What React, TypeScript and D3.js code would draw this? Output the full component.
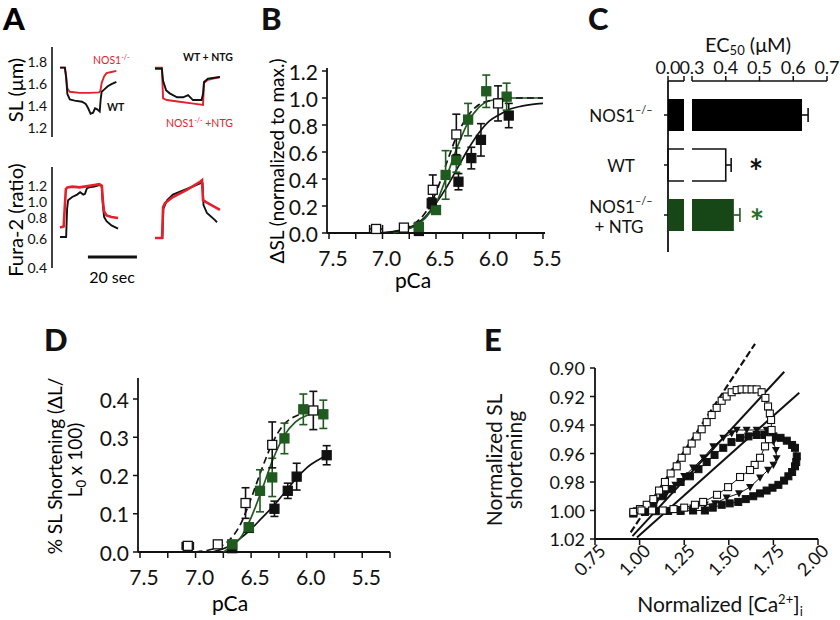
import React from "react";
import * as d3 from "d3";

const FONT = "Lato, 'Open Sans', 'DejaVu Sans', sans-serif";
const GREEN = "#1f5a1f";
const GREEN_BAR = "#174717";
const GREEN_TXT = "#2b6e2b";
const RED = "#e3202b";

type P = [number, number];

// ---------------- Panel A (traces: [time s, value]) ----------------
const slTicks = [1.2, 1.4, 1.6, 1.8];
const furaTicks = [0.4, 0.6, 0.8, 1.0, 1.2];
const slWT: P[] = [[0,1.74],[2,1.74],[2.5,1.65],[3,1.5],[4,1.45],[6,1.44],[9,1.43],[10.5,1.41],[11.5,1.37],[12.5,1.32],[13.5,1.33],[14.3,1.37],[15.2,1.36],[16.2,1.34],[16.6,1.45],[17,1.52],[18,1.54],[19.5,1.57],[21,1.59],[23,1.61]];
const slKO: P[] = [[0,1.74],[2,1.74],[2.5,1.66],[3,1.55],[4,1.52],[8,1.51],[12,1.51],[16,1.515],[16.5,1.53],[17,1.6],[18,1.66],[19,1.69],[21,1.7],[23,1.71]];
const slWTntg: P[] = [[0,1.73],[2.8,1.73],[3.3,1.62],[4.5,1.535],[6,1.506],[9,1.47],[11.5,1.47],[13.5,1.49],[15.5,1.445],[19,1.445],[19.6,1.5],[20,1.61],[21.6,1.64],[26.5,1.655]];
const slKOntg: P[] = [[0,1.74],[2.8,1.74],[3.3,1.46],[4.9,1.445],[10,1.43],[15,1.415],[19.6,1.4],[20,1.6],[21.6,1.63],[26.5,1.655]];
const fuWT: P[] = [[0,0.61],[2.5,0.61],[2.9,0.9],[3.3,1.01],[5,1.05],[7,1.08],[8.2,1.11],[9.5,1.08],[10.2,1.09],[11,1.16],[12,1.17],[14,1.18],[16,1.2],[17,1.19],[17.5,0.95],[18,0.8],[19,0.76],[21,0.72],[23.7,0.69]];
const fuKO: P[] = [[0,0.7],[1.5,0.71],[2,0.95],[2.4,1.15],[3,1.17],[5,1.18],[8,1.17],[10,1.18],[12,1.19],[14,1.2],[16,1.21],[17.1,1.19],[17.5,1.0],[18,0.87],[19,0.82],[21,0.8],[23.7,0.79]];
const fuWTntg: P[] = [[0,0.6],[3,0.6],[3.4,0.9],[4.9,1.01],[7.3,1.08],[13,1.15],[18.4,1.22],[19.4,1.22],[19.8,0.95],[21.2,0.85],[24.5,0.77],[25.3,0.75]];
const fuKOntg: P[] = [[0,0.6],[2.9,0.6],[3.3,0.925],[4.1,0.975],[7.3,1.05],[13,1.14],[18.4,1.24],[19.2,1.26],[19.6,1.01],[21.2,0.98],[26.5,0.89]];

// ---------------- Panel B ----------------
const bYTicks = [0, 0.2, 0.4, 0.6, 0.8, 1.0, 1.2];
const pcaLabels = [7.5, 7.0, 6.5, 6.0, 5.5];
const bMinor = [7.5, 7.25, 7.0, 6.75, 6.5, 6.25, 6.0, 5.75, 5.5];
const bWT_pCa = [7.06, 6.8, 6.53, 6.31, 5.92];
const bWT_val = [0.03, 0.04, 0.32, 0.73, 0.96];
const bWT_err = [0, 0, 0.11, 0.15, 0.13];
const bKO_pCa = [6.66, 6.54, 6.29, 6.17, 6.08, 5.82];
const bKO_val = [0.015, 0.22, 0.38, 0.555, 0.69, 0.87];
const bKO_err = [0, 0.04, 0.06, 0.08, 0.12, 0.09];
const bNTG_pCa = [6.66, 6.5, 6.41, 6.31, 6.2, 6.03, 5.84];
const bNTG_val = [0.045, 0.17, 0.43, 0.54, 0.84, 1.05, 1.01];
const bNTG_err = [0.02, 0.03, 0.18, 0.09, 0.12, 0.12, 0.1];
const bWTfit: P[] = [[7.0,0],[6.9,0.01],[6.8,0.03],[6.7,0.07],[6.6,0.15],[6.5,0.3],[6.4,0.52],[6.3,0.73],[6.2,0.87],[6.1,0.95],[6.0,0.98],[5.8,1.0],[5.5,1.0]];
const bKOfit: P[] = [[7.03,0],[6.9,0.01],[6.8,0.025],[6.7,0.06],[6.6,0.12],[6.5,0.22],[6.4,0.34],[6.3,0.48],[6.2,0.62],[6.1,0.74],[6.0,0.83],[5.9,0.88],[5.8,0.92],[5.7,0.94],[5.5,0.96]];
const bNTGfit: P[] = [[6.9,0],[6.8,0.02],[6.7,0.05],[6.6,0.11],[6.5,0.22],[6.4,0.42],[6.3,0.64],[6.2,0.82],[6.1,0.93],[6.0,0.98],[5.8,1.0],[5.5,1.0]];

// ---------------- Panel C ----------------
const cCats = ["NOS1", "WT", "NTG"];
const cVals = [0.626, 0.4, 0.424];
const cErr = [0.018, 0.016, 0.018];
const cTicks = [0.3, 0.4, 0.5, 0.6, 0.7];

// ---------------- Panel D ----------------
const dYTicks = [0, 0.1, 0.2, 0.3, 0.4];
const dMinor = [7.5, 7.25, 7.0, 6.75, 6.5, 6.25, 6.0, 5.75, 5.5, 5.25];
const dWT_pCa = [7.07, 6.8, 6.55, 6.31, 5.94];
const dWT_val = [0.016, 0.02, 0.128, 0.28, 0.37];
const dWT_err = [0.004, 0.005, 0.04, 0.06, 0.05];
const dKO_pCa = [6.67, 6.52, 6.29, 6.17, 6.09, 5.82];
const dKO_val = [0.01, 0.063, 0.113, 0.16, 0.197, 0.253];
const dKO_err = [0.005, 0.01, 0.02, 0.02, 0.035, 0.025];
const dNTG_pCa = [6.67, 6.52, 6.42, 6.31, 6.2, 6.03, 5.85];
const dNTG_val = [0.02, 0.065, 0.16, 0.195, 0.297, 0.373, 0.36];
const dNTG_err = [0.005, 0.01, 0.055, 0.05, 0.04, 0.04, 0.037];
const dWTfit: P[] = [[7.0,0],[6.9,0.004],[6.8,0.012],[6.7,0.03],[6.6,0.07],[6.5,0.14],[6.4,0.22],[6.3,0.29],[6.2,0.335],[6.1,0.355],[6.0,0.365],[5.94,0.37]];
const dNTGfit: P[] = [[6.75,0],[6.7,0.01],[6.6,0.035],[6.5,0.09],[6.4,0.165],[6.3,0.245],[6.2,0.305],[6.1,0.34],[6.0,0.357],[5.85,0.365]];
const dKOfit: P[] = [[6.85,0],[6.7,0.015],[6.6,0.035],[6.5,0.06],[6.4,0.09],[6.3,0.12],[6.2,0.155],[6.1,0.19],[6.0,0.22],[5.9,0.24],[5.82,0.253]];

// ---------------- Panel E ----------------
const eXTicks = [0.75, 1.0, 1.25, 1.5, 1.75, 2.0];
const eYTicks = [0.9, 0.92, 0.94, 0.96, 0.98, 1.0, 1.02];
const eWT: P[] = [[0.965,1.001],[1.002,0.999],[1.04,0.996],[1.077,0.992],[1.109,0.986],[1.142,0.98],[1.174,0.974],[1.208,0.969],[1.236,0.963],[1.264,0.958],[1.292,0.953],[1.32,0.948],[1.348,0.943],[1.376,0.938],[1.404,0.933],[1.432,0.928],[1.46,0.923],[1.488,0.92],[1.516,0.917],[1.544,0.9155],[1.572,0.915],[1.6,0.915],[1.628,0.915],[1.656,0.915],[1.684,0.917],[1.705,0.921],[1.72,0.927],[1.73,0.932],[1.737,0.9365],[1.74,0.9435],[1.725,0.95],[1.703,0.955],[1.675,0.963],[1.645,0.968],[1.619,0.9716],[1.563,0.9765],[1.496,0.9836],[1.434,0.989],[1.356,0.994],[1.31,0.996],[1.25,0.998],[1.19,0.999],[1.13,1.0],[1.07,1.0],[1.01,1.0]];
const eNTG: P[] = [[0.984,1.0],[1.04,0.997],[1.096,0.993],[1.15,0.988],[1.2,0.982],[1.25,0.976],[1.3,0.97],[1.357,0.963],[1.413,0.955],[1.469,0.949],[1.516,0.946],[1.544,0.9435],[1.6,0.9435],[1.656,0.9435],[1.712,0.9435],[1.735,0.947],[1.75,0.9517],[1.764,0.9576],[1.768,0.9634],[1.75,0.968],[1.72,0.9716],[1.675,0.977],[1.619,0.9836],[1.557,0.988],[1.488,0.991],[1.423,0.995],[1.366,0.996],[1.3,0.998],[1.23,0.999],[1.16,1.0],[1.09,1.0],[1.02,1.0]];
const eKO: P[] = [[0.965,1.002],[1.02,0.999],[1.077,0.995],[1.13,0.99],[1.18,0.985],[1.23,0.98],[1.282,0.976],[1.33,0.971],[1.376,0.966],[1.42,0.961],[1.469,0.956],[1.515,0.952],[1.563,0.949],[1.61,0.948],[1.656,0.947],[1.7,0.947],[1.75,0.948],[1.79,0.949],[1.825,0.951],[1.855,0.954],[1.871,0.956],[1.881,0.962],[1.878,0.966],[1.871,0.969],[1.855,0.973],[1.834,0.976],[1.81,0.979],[1.778,0.982],[1.745,0.984],[1.712,0.986],[1.675,0.988],[1.637,0.99],[1.595,0.992],[1.553,0.994],[1.505,0.995],[1.46,0.996],[1.41,0.998],[1.366,1.0],[1.3,1.0],[1.23,1.0003],[1.16,1.0003],[1.09,1.0005],[1.03,1.001],[0.965,1.002]];
const eFitWT: P[] = [[0.95,1.0154],[1.647,0.883]];
const eFitNTG: P[] = [[0.96,1.018],[1.811,0.9026]];
const eFitKO: P[] = [[0.985,1.019],[1.895,0.9173]];

function ErrV({ x, y1, y2, color, cap = 4 }: any) {
  return (
    <g stroke={color} strokeWidth={1.6}>
      <line x1={x} x2={x} y1={y1} y2={y2} />
      <line x1={x - cap} x2={x + cap} y1={y1} y2={y1} />
      <line x1={x - cap} x2={x + cap} y1={y2} y2={y2} />
    </g>
  );
}

function Sq({ x, y, s, fill, stroke, sw = 1.3 }: any) {
  return <rect x={x - s / 2} y={y - s / 2} width={s} height={s} fill={fill} stroke={stroke} strokeWidth={sw} />;
}

function PanelA() {
  const tA = d3.scaleLinear().domain([0, 20]).range([0, 49]);
  const slY = d3.scaleLinear().domain([1.2, 1.8]).range([127, 61]);
  const fuY = d3.scaleLinear().domain([0.4, 0.6, 0.8, 1.0, 1.2]).range([267, 238, 217, 201, 185]);
  const sl = d3.line<P>().x(d => tA(d[0])).y(d => slY(d[1]));
  const fu = d3.line<P>().x(d => tA(d[0])).y(d => fuY(d[1]));
  const lab = { fontFamily: FONT, fontSize: 14, fill: "#111" };
  return (
    <g>
      <text x={3} y={30} fontFamily={FONT} fontWeight={900} fontSize={31}>A</text>
      <text transform="translate(23,90) rotate(-90)" textAnchor="middle" fontFamily={FONT} fontSize={20}>SL  (μm)</text>
      <text transform="translate(23,220) rotate(-90)" textAnchor="middle" fontFamily={FONT} fontSize={20}>Fura-2 (ratio)</text>
      <line x1={52} x2={52} y1={47} y2={137} stroke="#111" strokeWidth={1.6} />
      <line x1={52} x2={52} y1={167} y2={268} stroke="#111" strokeWidth={1.6} />
      {slTicks.map(t => (
        <text key={"s" + t} x={47} y={slY(t)} textAnchor="end" dominantBaseline="central" {...lab}>{t.toFixed(1)}</text>
      ))}
      {furaTicks.map(t => (
        <text key={"f" + t} x={47} y={fuY(t)} textAnchor="end" dominantBaseline="central" {...lab}>{t.toFixed(1)}</text>
      ))}
      <g transform="translate(60,0)" fill="none" strokeWidth={1.9}>
        <path d={sl(slKO)!} stroke={RED} />
        <path d={sl(slWT)!} stroke="#111" />
        <path d={fu(fuWT)!} stroke="#111" />
        <path d={fu(fuKO)!} stroke={RED} strokeWidth={2.6} />
      </g>
      <g transform="translate(155,0)" fill="none" strokeWidth={1.9}>
        <path d={sl(slKOntg)!} stroke={RED} />
        <path d={sl(slWTntg)!} stroke="#111" />
        <path d={fu(fuWTntg)!} stroke="#111" />
        <path d={fu(fuKOntg)!} stroke={RED} strokeWidth={2.6} />
      </g>
      <text x={93} y={64} fontFamily={FONT} fontSize={10.5} fill={RED}>NOS1<tspan fontSize={7} dy={-4}>-/-</tspan></text>
      <text x={107} y={111} fontFamily={FONT} fontSize={10.5} fontWeight={700} fill="#111">WT</text>
      <text x={183} y={61} fontFamily={FONT} fontSize={10.5} fontWeight={700} fill="#111">WT + NTG</text>
      <text x={166} y={127} fontFamily={FONT} fontSize={10.5} fill={RED}>NOS1<tspan fontSize={7} dy={-4}>-/-</tspan><tspan dy={4}>  +NTG</tspan></text>
      <line x1={60 + tA(11.4)} x2={60 + tA(31.4)} y1={257} y2={257} stroke="#111" strokeWidth={3} />
      <text x={112} y={283} textAnchor="middle" fontFamily={FONT} fontSize={16}>20 sec</text>
    </g>
  );
}

function DoseAxes({ x, y, yTicks, minor, labels, yTop, xEnd, letter, lx, ly }: any) {
  const x0 = x.range()[0] - 2;
  const y0 = y(0);
  return (
    <g fontFamily={FONT} fill="#111">
      <text x={lx} y={ly} fontWeight={900} fontSize={31}>{letter}</text>
      <line x1={x0} x2={x0} y1={y0} y2={yTop} stroke="#111" strokeWidth={1.8} />
      <line x1={x0} x2={xEnd} y1={y0} y2={y0} stroke="#111" strokeWidth={1.8} />
      {yTicks.map((t: number) => (
        <g key={"y" + t}>
          <line x1={x0 - 5} x2={x0} y1={y(t)} y2={y(t)} stroke="#111" strokeWidth={1.5} />
          <text x={x0 - 9} y={y(t)} textAnchor="end" dominantBaseline="central" fontSize={21}>{t.toFixed(1)}</text>
        </g>
      ))}
      {minor.map((t: number) => (
        <line key={"m" + t} x1={x(t)} x2={x(t)} y1={y0} y2={y0 + 6} stroke="#111" strokeWidth={1.5} />
      ))}
      {labels.map((t: number) => (
        <text key={"l" + t} x={x(t) + 4} y={y0 + 33} textAnchor="middle" fontSize={21}>{t.toFixed(1)}</text>
      ))}
    </g>
  );
}

function Series({ x, y, pca, val, err, kind, xerr }: any) {
  const color = kind === "ntg" ? GREEN : "#111";
  const s = 9;
  return (
    <g>
      {pca.map((p: number, i: number) => (
        <g key={i}>
          {err[i] > 0.006 && <ErrV x={x(p)} y1={y(val[i] + err[i])} y2={y(val[i] - err[i])} color={color} />}
          {xerr && i === 0 && (
            <g stroke="#111" strokeWidth={1.6}>
              <line x1={x(p + xerr)} x2={x(p - xerr)} y1={y(val[i])} y2={y(val[i])} />
              <line x1={x(p + xerr)} x2={x(p + xerr)} y1={y(val[i]) - 4} y2={y(val[i]) + 4} />
              <line x1={x(p - xerr)} x2={x(p - xerr)} y1={y(val[i]) - 4} y2={y(val[i]) + 4} />
            </g>
          )}
          <Sq x={x(p)} y={y(val[i])} s={s} fill={kind === "wt" ? "#fff" : color} stroke={color} />
        </g>
      ))}
    </g>
  );
}

function PanelB() {
  const x = d3.scaleLinear().domain([7.5, 5.5]).range([329, 543]);
  const y = d3.scaleLinear().domain([0, 1.2]).range([233, 71]);
  const ln = d3.line<P>().x(d => x(d[0])).y(d => y(d[1])).curve(d3.curveMonotoneX);
  return (
    <g>
      <DoseAxes x={x} y={y} yTicks={bYTicks} minor={bMinor} labels={pcaLabels} yTop={68} xEnd={545} letter="B" lx={261} ly={30} />
      <text transform="translate(284,161) rotate(-90)" textAnchor="middle" fontFamily={FONT} fontSize={19}>ΔSL (normalized to max.)</text>
      <text x={413} y={288} textAnchor="middle" fontFamily={FONT} fontSize={21}>pCa</text>
      <g fill="none" strokeWidth={1.7}>
        <path d={ln(bKOfit)!} stroke="#111" />
        <path d={ln(bNTGfit)!} stroke={GREEN} />
        <path d={ln(bWTfit)!} stroke="#111" strokeDasharray="7,4" />
      </g>
      <Series x={x} y={y} pca={bKO_pCa} val={bKO_val} err={bKO_err} kind="ko" />
      <Series x={x} y={y} pca={bNTG_pCa} val={bNTG_val} err={bNTG_err} kind="ntg" />
      <Series x={x} y={y} pca={bWT_pCa} val={bWT_val} err={bWT_err} kind="wt" xerr={0.06} />
    </g>
  );
}

function PanelC() {
  const xl = d3.scaleLinear().domain([0, 0.048]).range([668, 684]);
  const xr = d3.scaleLinear().domain([0.3, 0.7]).range([692, 827]);
  const yc = d3.scalePoint<string>().domain(cCats).range([115, 215]);
  const h = 32;
  const axY = 81;
  return (
    <g fontFamily={FONT} fill="#111">
      <text x={588} y={30} fontWeight={900} fontSize={31}>C</text>
      <text x={748} y={52} textAnchor="middle" fontSize={20}>EC<tspan fontSize={13} dy={3}>50</tspan><tspan dy={-3}> (μM)</tspan></text>
      <line x1={xl(0)} x2={xl(0.048)} y1={axY} y2={axY} stroke="#111" strokeWidth={1.6} />
      <line x1={xr(0.3)} x2={xr(0.7)} y1={axY} y2={axY} stroke="#111" strokeWidth={1.6} />
      {[xl(0), xl(0.048), ...cTicks.map(t => xr(t))].map((px, i) => (
        <line key={i} x1={px} x2={px} y1={axY} y2={axY - 5} stroke="#111" strokeWidth={1.5} />
      ))}
      <text x={xl(0)} y={74} textAnchor="middle" fontSize={18}>0.0</text>
      {cTicks.map(t => (
        <text key={t} x={xr(t)} y={74} textAnchor="middle" fontSize={18}>{t.toFixed(1)}</text>
      ))}
      <line x1={668} x2={668} y1={axY} y2={252} stroke="#111" strokeWidth={1.8} />
      {cCats.map(c => (
        <line key={c} x1={664} x2={668} y1={yc(c)} y2={yc(c)} stroke="#111" strokeWidth={1.5} />
      ))}
      {cCats.map((c, i) => {
        const cy = yc(c)!;
        const fill = i === 0 ? "#000" : i === 2 ? GREEN_BAR : "#fff";
        const x1 = xr(cVals[i]);
        const bar = i === 1 ? (
          <g fill="none" stroke="#111" strokeWidth={1.6}>
            <path d={`M${xl(0.048)},${cy - h / 2}H${xl(0)}V${cy + h / 2}H${xl(0.048)}`} />
            <path d={`M${xr(0.3)},${cy - h / 2}H${x1}V${cy + h / 2}H${xr(0.3)}`} />
          </g>
        ) : (
          <g fill={fill}>
            <rect x={xl(0)} y={cy - h / 2} width={xl(0.048) - xl(0)} height={h} />
            <rect x={xr(0.3)} y={cy - h / 2} width={x1 - xr(0.3)} height={h} />
          </g>
        );
        const ec = i === 2 ? GREEN : "#111";
        const xe = xr(cVals[i] + cErr[i]);
        return (
          <g key={c}>
            {bar}
            <g stroke={ec} strokeWidth={1.6}>
              <line x1={x1} x2={xe} y1={cy} y2={cy} />
              <line x1={xe} x2={xe} y1={cy - 7} y2={cy + 7} />
            </g>
          </g>
        );
      })}
      <text x={621} y={yc("NOS1")} textAnchor="middle" dominantBaseline="central" fontSize={17}>NOS1<tspan fontSize={11} dy={-6}>–/–</tspan></text>
      <text x={621} y={yc("WT")} textAnchor="middle" dominantBaseline="central" fontSize={17}>WT</text>
      <text x={621} y={206} textAnchor="middle" dominantBaseline="central" fontSize={17}>NOS1<tspan fontSize={11} dy={-6}>–/–</tspan></text>
      <text x={619} y={226} textAnchor="middle" dominantBaseline="central" fontSize={17}>+ NTG</text>
      <text x={756} y={yc("WT")! + 19} textAnchor="middle" fontSize={34} fontWeight={700} fill="#111">*</text>
      <text x={757} y={yc("NTG")! + 19} textAnchor="middle" fontSize={34} fontWeight={700} fill={GREEN_TXT}>*</text>
    </g>
  );
}

function PanelD() {
  const x = d3.scaleLinear().domain([7.5, 5.25]).range([140, 390]);
  const y = d3.scaleLinear().domain([0, 0.4]).range([552, 399]);
  const ln = d3.line<P>().x(d => x(d[0])).y(d => y(d[1])).curve(d3.curveMonotoneX);
  return (
    <g>
      <DoseAxes x={x} y={y} yTicks={dYTicks} minor={dMinor} labels={pcaLabels} yTop={378} xEnd={390} letter="D" lx={44} ly={351} />
      <text transform="translate(62,466) rotate(-90)" textAnchor="middle" fontFamily={FONT} fontSize={19}>% SL Shortening (ΔL/</text>
      <text transform="translate(82,460) rotate(-90)" textAnchor="middle" fontFamily={FONT} fontSize={19}>L<tspan fontSize={13} dy={4}>0</tspan><tspan dy={-4}> x 100)</tspan></text>
      <text x={230} y={611} textAnchor="middle" fontFamily={FONT} fontSize={21}>pCa</text>
      <g fill="none" strokeWidth={1.7}>
        <path d={ln(dKOfit)!} stroke="#111" />
        <path d={ln(dNTGfit)!} stroke={GREEN} />
        <path d={ln(dWTfit)!} stroke="#111" strokeDasharray="7,4" />
      </g>
      <Series x={x} y={y} pca={dKO_pCa} val={dKO_val} err={dKO_err} kind="ko" />
      <Series x={x} y={y} pca={dNTG_pCa} val={dNTG_val} err={dNTG_err} kind="ntg" />
      <Series x={x} y={y} pca={dWT_pCa} val={dWT_val} err={dWT_err} kind="wt" xerr={0.05} />
    </g>
  );
}

function PanelE() {
  const x = d3.scaleLinear().domain([0.75, 2.0]).range([595, 818]);
  const y = d3.scaleLinear().domain([0.9, 1.02]).range([368, 539]);
  const ln = d3.line<P>().x(d => x(d[0])).y(d => y(d[1]));
  const s = 7;
  return (
    <g fontFamily={FONT} fill="#111">
      <text x={484} y={351} fontWeight={900} fontSize={31}>E</text>
      <line x1={595} x2={595} y1={y(1.02)} y2={y(0.9)} stroke="#111" strokeWidth={1.8} />
      <line x1={595} x2={818} y1={y(1.02)} y2={y(1.02)} stroke="#111" strokeWidth={1.8} />
      {eYTicks.map(t => (
        <g key={t}>
          <line x1={590} x2={595} y1={y(t)} y2={y(t)} stroke="#111" strokeWidth={1.5} />
          <text x={585} y={y(t)} textAnchor="end" dominantBaseline="central" fontSize={18}>{t.toFixed(2)}</text>
        </g>
      ))}
      {eXTicks.map(t => (
        <g key={t}>
          <line x1={x(t)} x2={x(t)} y1={539} y2={545} stroke="#111" strokeWidth={1.5} />
          <text transform={`translate(${x(t) + 12},${552}) rotate(-45)`} textAnchor="end" fontSize={18}>{t.toFixed(2)}</text>
        </g>
      ))}
      <text transform="translate(502,460) rotate(-90)" textAnchor="middle" fontSize={21}>Normalized  SL</text>
      <text transform="translate(522,460) rotate(-90)" textAnchor="middle" fontSize={21}>shortening</text>
      <text x={720} y={612} textAnchor="middle" fontSize={21}>Normalized [Ca<tspan fontSize={13} dy={-8}>2+</tspan><tspan dy={8}>]</tspan><tspan fontSize={13} dy={4}>i</tspan></text>
      <g fill="none" stroke="#111">
        <path d={ln(eFitWT)!} strokeWidth={2.2} strokeDasharray="7,3" />
        <path d={ln(eFitNTG)!} strokeWidth={2} />
        <path d={ln(eFitKO)!} strokeWidth={2} />
        <path d={ln(eKO)!} strokeWidth={1} />
        <path d={ln(eNTG)!} strokeWidth={1} />
        <path d={ln(eWT)!} strokeWidth={1} />
      </g>
      {eKO.map((d, i) => <Sq key={"k" + i} x={x(d[0])} y={y(d[1])} s={s} fill="#111" stroke="#111" sw={1} />)}
      {eNTG.map((d, i) => {
        const cx = x(d[0]), cy = y(d[1]);
        return <path key={"n" + i} d={`M${cx - 4},${cy - 3.2}L${cx + 4},${cy - 3.2}L${cx},${cy + 4}Z`} fill="#111" />;
      })}
      {eWT.map((d, i) => <Sq key={"w" + i} x={x(d[0])} y={y(d[1])} s={s} fill="#fff" stroke="#111" sw={1.1} />)}
    </g>
  );
}

export default function App() {
  return (
    <svg width={840} height={620} viewBox="0 0 840 620" style={{ position: "absolute", left: 0, top: 0, background: "#fff" }}>
      <rect width={840} height={620} fill="#fff" />
      <PanelA />
      <PanelB />
      <PanelC />
      <PanelD />
      <PanelE />
    </svg>
  );
}
